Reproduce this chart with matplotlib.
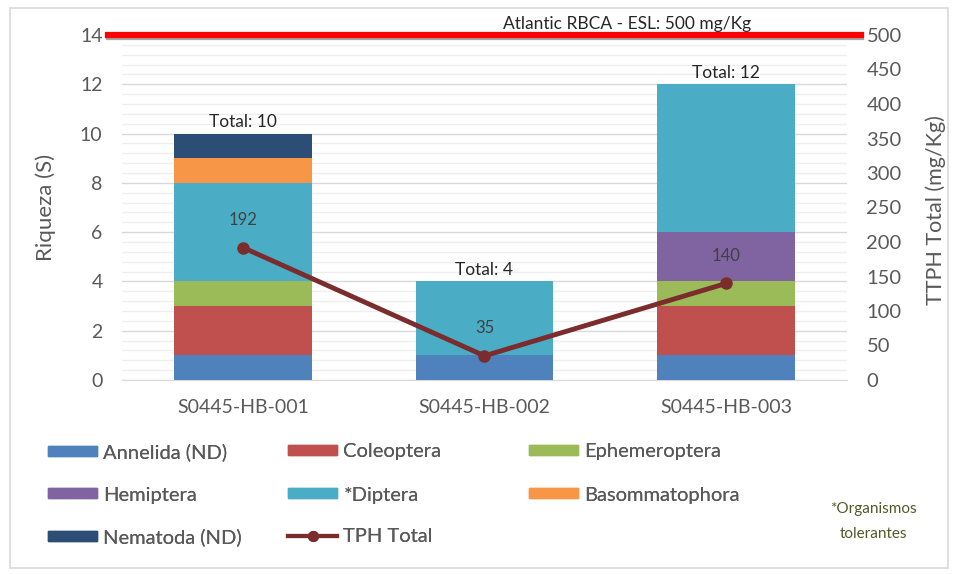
import numpy as np
import matplotlib
matplotlib.use("Agg")
from matplotlib import pyplot as plt
from matplotlib.patches import Patch, Rectangle
from matplotlib.lines import Line2D
import matplotlib.patheffects as pe
from matplotlib.ticker import MultipleLocator

plt.rcParams['font.family'] = ['Lato', 'DejaVu Sans']

sites = ["S0445-HB-001", "S0445-HB-002", "S0445-HB-003"]
annelida = [1, 1, 1]
coleoptera = [2, 0, 2]
ephemeroptera = [1, 0, 1]
hemiptera = [0, 0, 2]
diptera = [4, 3, 6]
basommatophora = [1, 0, 0]
nematoda = [1, 0, 0]
tph = [192, 35, 140]
esl = 500

groups = [
    ("Annelida (ND)", annelida, "#4F81BD"),
    ("Coleoptera", coleoptera, "#C0504D"),
    ("Ephemeroptera", ephemeroptera, "#9BBB59"),
    ("Hemiptera", hemiptera, "#8064A2"),
    ("*Diptera", diptera, "#4BACC6"),
    ("Basommatophora", basommatophora, "#F79646"),
    ("Nematoda (ND)", nematoda, "#2C4D75"),
]
gray = "#595959"
W, H = 958, 574

fig = plt.figure(figsize=(9.58, 5.74), dpi=100)
# chart frame
fig.add_artist(Rectangle((10 / W, 6 / H), 938 / W, 560 / H, transform=fig.transFigure,
                         fill=False, edgecolor="#D9D9D9", lw=1.2))
ax = fig.add_axes([122 / W, 1 - 380 / H, 725 / W, 345 / H])
ax2 = ax.twinx()

x = np.arange(len(sites))
bottom = np.zeros(len(sites))
handles = {}
for name, vals, col in groups:
    ax.bar(x, vals, 0.57, bottom=bottom, color=col, zorder=3)
    bottom += np.array(vals)
    handles[name] = Patch(color=col, label=name)

for xi, tot in zip(x, bottom):
    ax.text(xi, tot + 0.15, "Total: %d" % tot, ha="center", va="bottom",
            fontsize=12.5, color="#262626")

ax.set_xlim(-0.5, 2.5)
ax.set_ylim(0, 14)
ax.yaxis.set_major_locator(MultipleLocator(2))
ax.yaxis.set_minor_locator(MultipleLocator(0.4))
ax.grid(True, which="major", axis="y", color="#D9D9D9", lw=1, zorder=0)
ax.grid(True, which="minor", axis="y", color="#EFEFEF", lw=1, zorder=0)
ax.set_axisbelow(True)
ax.set_xticks(x)
ax.set_xticklabels(sites)
ax.tick_params(axis="x", length=0, pad=14, labelsize=14, labelcolor=gray)
ax.tick_params(axis="y", which="both", length=0, labelsize=14, labelcolor=gray, pad=14)
for s in ax.spines.values():
    s.set_visible(False)
ax.spines["bottom"].set_visible(True)
ax.spines["bottom"].set_color("#D9D9D9")
ax.set_ylabel("Riqueza (S)", fontsize=16, color=gray)
ax.yaxis.set_label_coords(-0.091, 0.5)

ax2.set_ylim(0, 500)
ax2.yaxis.set_major_locator(MultipleLocator(50))
ax2.tick_params(axis="y", length=0, labelsize=14.5, labelcolor=gray, pad=14)
for s in ax2.spines.values():
    s.set_visible(False)
ax2.set_ylabel("TTPH Total (mg/Kg)", fontsize=15.5, color=gray)
ax2.yaxis.set_label_coords(1.108, 0.493)

line_col = "#7B2C2C"
ax2.plot(x, tph, color=line_col, lw=3.5, marker="o", ms=8, zorder=5)
for xi, v in zip(x, tph):
    ax2.annotate(str(v), (xi, v), xytext=(0, 14), textcoords="offset points",
                 ha="center", va="bottom", fontsize=12, color="#404040")

ax2.axhline(esl, xmin=-0.019, xmax=1.019, color="red", lw=4.5, clip_on=False,
            zorder=6, path_effects=[pe.SimpleLineShadow(offset=(0.5, -1.5), alpha=0.35),
                                    pe.Normal()])
ax2.text(1.59, esl + 5, "Atlantic RBCA - ESL: 500 mg/Kg", ha="center", va="bottom",
         fontsize=12.5, color="#262626")

th = Line2D([], [], color=line_col, lw=3, marker="o", ms=7, label="TPH Total")
# legend entries placed one by one so rows and columns line up like the original
entries = [
    (48, 452, handles["Annelida (ND)"]), (288, 452, handles["Coleoptera"]),
    (529, 452, handles["Ephemeroptera"]),
    (48, 495, handles["Hemiptera"]), (288, 495, handles["*Diptera"]),
    (529, 495, handles["Basommatophora"]),
    (48, 537, handles["Nematoda (ND)"]), (288, 537, th),
]
for px, py, h in entries:
    leg = fig.legend(handles=[h], loc="center left", bbox_to_anchor=(px / W, 1 - py / H),
                     frameon=False, fontsize=14.5, labelcolor=gray,
                     handlelength=2.45, handleheight=0.38, handletextpad=0.3,
                     borderpad=0, borderaxespad=0)
    fig.add_artist(leg)

fig.text(873 / W, 1 - 521 / H, "*Organismos\ntolerantes", ha="center", va="center",
         fontsize=11, color="#4F5A26", linespacing=2.0)

fig.savefig("out.png", dpi=100)
